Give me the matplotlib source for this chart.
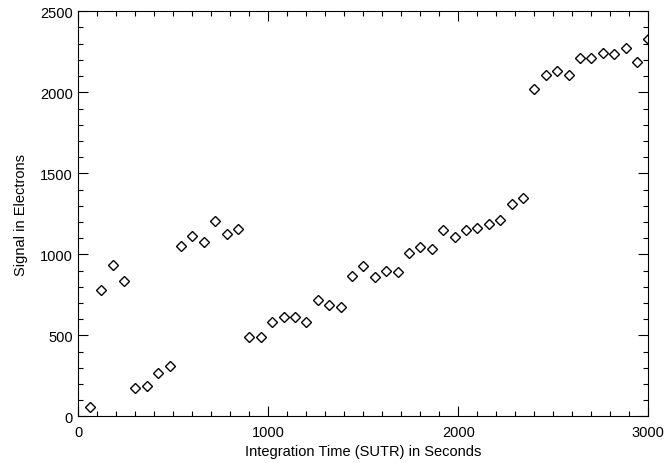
import numpy as np
import matplotlib.pyplot as plt
from matplotlib.ticker import MultipleLocator

# integration time (s) and measured signal (electrons)
time_s = [60, 120, 180, 240, 300, 360, 420, 480, 540, 600,
          660, 720, 780, 840, 900, 960, 1020, 1080, 1140, 1200,
          1260, 1320, 1380, 1440, 1500, 1560, 1620, 1680, 1740, 1800,
          1860, 1920, 1980, 2040, 2100, 2160, 2220, 2280, 2340, 2400,
          2460, 2520, 2580, 2640, 2700, 2760, 2820, 2880, 2940, 3000]
signal = [55, 777, 931, 838, 175, 185, 267, 308, 1050, 1112,
          1075, 1208, 1128, 1155, 487, 487, 584, 614, 612, 584,
          715, 690, 672, 867, 929, 857, 900, 892, 1007, 1048,
          1030, 1149, 1104, 1151, 1161, 1186, 1212, 1311, 1350, 2022,
          2104, 2131, 2108, 2211, 2209, 2244, 2234, 2273, 2184, 2330]

plt.rcParams['font.family'] = ['Liberation Sans', 'DejaVu Sans']

fig = plt.figure(figsize=(6.67, 4.64), dpi=100)
ax = fig.add_axes([0.1174, 0.1006, 0.8546, 0.8729])
ax.plot(time_s, signal, linestyle='none', marker='D', markersize=5,
        markerfacecolor='none', markeredgecolor='black', markeredgewidth=1.0)

ax.set_xlim(0, 3000)
ax.set_ylim(0, 2500)
ax.xaxis.set_major_locator(MultipleLocator(1000))
ax.xaxis.set_minor_locator(MultipleLocator(100))
ax.yaxis.set_major_locator(MultipleLocator(500))
ax.yaxis.set_minor_locator(MultipleLocator(100))
ax.tick_params(which='both', direction='in', top=True, right=True,
               width=0.8, labelsize=10.5)
ax.tick_params(which='major', length=7.5)
ax.tick_params(which='minor', length=3.8)
ax.tick_params(axis='x', which='major', pad=6)
ax.tick_params(axis='y', which='major', pad=4)
for s in ax.spines.values():
    s.set_linewidth(0.8)

ax.set_xlabel('Integration Time (SUTR) in Seconds', fontsize=10.5, labelpad=4)
ax.set_ylabel('Signal in Electrons', fontsize=10.5, labelpad=8.5)

fig.savefig('out.png', dpi=100)
